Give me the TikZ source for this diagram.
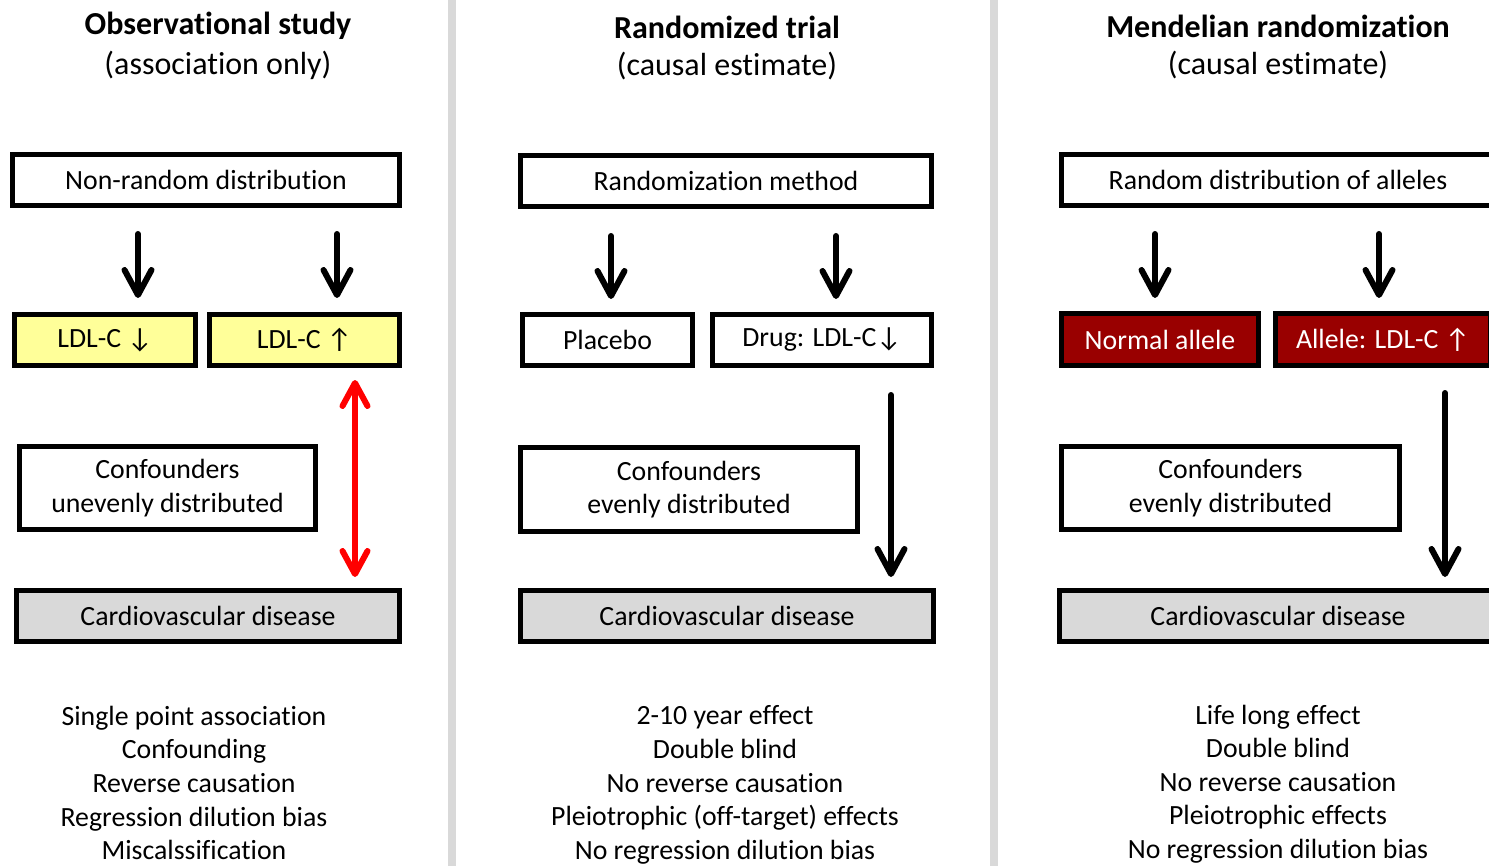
\documentclass[tikz,border=0pt]{standalone}
\usepackage{fontspec}
\setmainfont{Carlito}[Ligatures=NoCommon]
\usetikzlibrary{arrows.meta}
\definecolor{ylw}{HTML}{FFFF99}
\definecolor{dred}{HTML}{990000}
\definecolor{lgray}{HTML}{D9D9D9}
\newcommand\mybody{\fontsize{13.9}{16.8}\selectfont}
\newcommand\mytitle{\fontsize{16}{19.5}\selectfont}
\begin{document}
\begin{tikzpicture}[x=0.5pt,y=-0.5pt,
  box/.style={draw=black, line width=2.6pt, inner sep=0pt, font=\mybody, align=center, fill=white},
  ldl/.style={box, fill=ylw},
  allele/.style={box, fill=dred, text=white},
  cvd/.style={box, fill=lgray},
  arr/.style={line width=3pt, line cap=round, -{Straight Barb[length=12.5pt,width=13.5pt,line cap=round,round]}},
  redarr/.style={line width=3pt, red, line cap=round, {Straight Barb[length=11.5pt,width=12.5pt,line cap=round,round]}-{Straight Barb[length=11.5pt,width=12.5pt,line cap=round,round]}},
  ttl/.style={font=\mytitle, align=center, inner sep=0pt},
  txt/.style={font=\mybody, align=center, inner sep=0pt},
  divider/.style={fill=lgray}
]
\useasboundingbox (0,0) rectangle (1489,866);
\clip (0,0) rectangle (1489,866);
\fill[white] (0,0) rectangle (1489,866);
% dividers
\fill[divider] (448,0) rectangle (456,866);
\fill[divider] (990,0) rectangle (998,866);

% ===== Column 1 =====
\node[ttl] (t1a) at (218,26) {\textbf{Observational study}};
\node[ttl] (t1b) at (218,65) {(association only)};
\node[box, minimum width=193.4pt, minimum height=25.4pt] (nr) at (206,180) {Non-random distribution};
\node[ldl, minimum width=90.4pt, minimum height=25.4pt] (l1) at (105,340) {LDL-C ↓};
\node[ldl, minimum width=94.9pt, minimum height=25.4pt] (l2) at (304.5,340) {LDL-C ↑};
\node[box, minimum width=147.9pt, minimum height=41.4pt] (c1) at (167.5,488) {Confounders\\unevenly distributed};
\node[cvd, minimum width=191.4pt, minimum height=25.4pt] (d1) at (208,616) {Cardiovascular disease};
\node[txt] (b1) at (194,783) {Single point association\\Confounding\\Reverse causation\\Regression dilution bias\\Miscalssification};

\draw[arr, shorten <=13pt, shorten >=7pt] ([xshift=-34pt]nr.south) -- ([xshift=16.5pt]l1.north);
\draw[arr, shorten <=13pt, shorten >=7pt] ([xshift=65.5pt]nr.south) -- ([xshift=16.25pt]l2.north);
\draw[redarr, shorten <=6pt, shorten >=5.5pt] ([xshift=25.25pt]l2.south) -- ([xshift=73.5pt]d1.north);

% ===== Column 2 =====
\node[ttl] (t2a) at (727,27) {\textbf{Randomized trial}};
\node[ttl] (t2b) at (727,66) {(causal estimate)};
\node[box, minimum width=205.4pt, minimum height=25.4pt] (rm) at (726,181) {Randomization method};
\node[box, minimum width=84.9pt, minimum height=25.4pt] (pl) at (607.5,340) {Placebo};
\node[box, minimum width=109.4pt, minimum height=25.4pt] (dr) at (822,340) {Drug: LDL-C↓};
\node[box, minimum width=168.4pt, minimum height=41.9pt] (c2) at (689,489.5) {Confounders\\evenly distributed};
\node[cvd, minimum width=206.4pt, minimum height=25.4pt] (d2) at (727,616) {Cardiovascular disease};
\node[txt] (b2) at (725,785) {2-10 year effect\\Double blind\\No reverse causation\\Pleiotrophic (off-target) effects\\No regression dilution bias};

\draw[arr, shorten <=13.5pt, shorten >=6.5pt] ([xshift=-57.5pt]rm.south) -- ([xshift=1.75pt]pl.north);
\draw[arr, shorten <=13.5pt, shorten >=6.5pt] ([xshift=55pt]rm.south) -- ([xshift=7pt]dr.north);
\draw[arr, shorten <=13.5pt, shorten >=5.5pt] ([xshift=34.5pt]dr.south) -- ([xshift=82pt]d2.north);

% ===== Column 3 =====
\node[ttl] (t3a) at (1278,26) {\textbf{Mendelian randomization}};
\node[ttl] (t3b) at (1278,65) {(causal estimate)};
\node[box, minimum width=216.4pt, minimum height=25.4pt] (rd) at (1278,180) {Random distribution of alleles};
\node[allele, minimum width=98.4pt, minimum height=25.9pt] (na) at (1160,339.5) {Normal allele};
\node[allele, minimum width=107.4pt, minimum height=25.9pt] (al) at (1383,339.5) {Allele: LDL-C ↑};
\node[box, minimum width=168.9pt, minimum height=41.4pt] (c3) at (1230.5,488) {Confounders\\evenly distributed};
\node[cvd, minimum width=218.4pt, minimum height=25.4pt] (d3) at (1278,616) {Cardiovascular disease};
\node[txt] (b3) at (1278,784) {Life long effect\\Double blind\\No reverse causation\\Pleiotrophic effects\\No regression dilution bias};

\draw[arr, shorten <=13pt, shorten >=6.5pt] ([xshift=-61.5pt]rd.south) -- ([xshift=-2.5pt]na.north);
\draw[arr, shorten <=13pt, shorten >=6.5pt] ([xshift=50.5pt]rd.south) -- ([xshift=-2pt]al.north);
\draw[arr, shorten <=12.5pt, shorten >=5.5pt] ([xshift=31pt]al.south) -- ([xshift=83.5pt]d3.north);
\end{tikzpicture}
\end{document}
